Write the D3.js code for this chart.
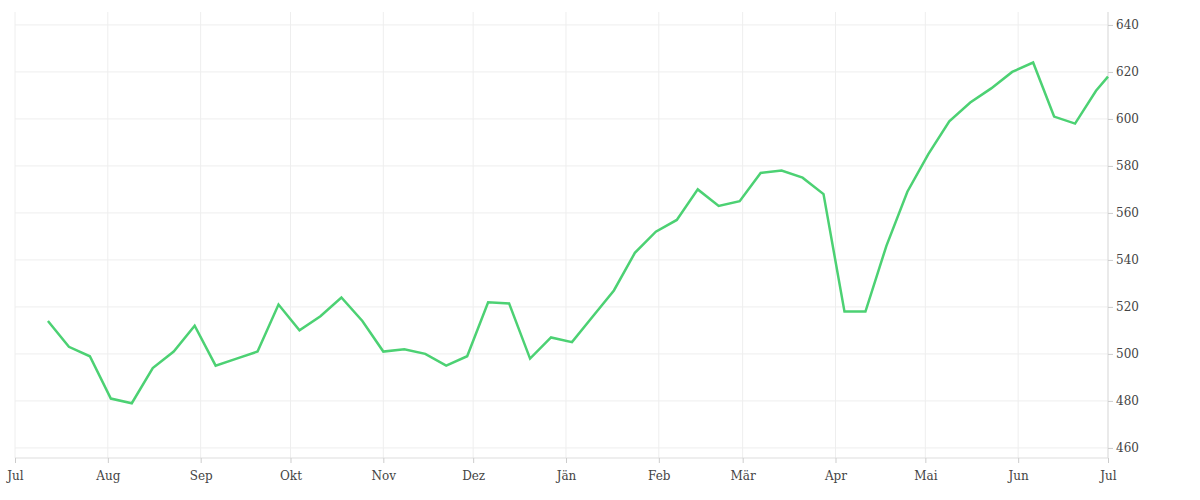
<!DOCTYPE html>
<html><head><meta charset="utf-8">
<script src="https://cdn.jsdelivr.net/npm/d3@7"></script>
<style>body{margin:0;background:#fff}svg text{font-family:"DejaVu Serif",serif;font-size:12px;fill:#444}</style>
</head><body><svg id="c" width="1200" height="500"></svg>
<script>
const startDate = "2020-07-12";
const values = [514,503,499,481,479,494,501,512,495,498,501,521,510,516,524,514,501,502,500,495,499,522,521.5,498,507,505,516,527,543,552,557,570,563,565,577,578,575,568,518,518,546,569,585,599,607,613,620,624,601,598,612];
const endValue = 618;
const endDate = "2021-07-01";
const monthLabels = ["Jul","Aug","Sep","Okt","Nov","Dez","Jän","Feb","Mär","Apr","Mai","Jun","Jul"];
const yTicks = [460,480,500,520,540,560,580,600,620,640];

const p = d3.timeParse("%Y-%m-%d");
const s0 = p(startDate);
const data = values.map((v,i)=>({d:d3.timeDay.offset(s0,i*7),v}));
data.push({d:p(endDate),v:endValue});
const svg = d3.select("#c");
const x = d3.scaleTime().domain([p("2020-07-01"),p("2021-07-01")]).range([15,1108]);
const y = d3.scaleLinear().domain([455.7,645.5]).range([458,12]);
const months = d3.timeMonth.range(p("2020-07-01"),d3.timeDay.offset(p("2021-07-01"),1));
const g = svg.append("g");
g.selectAll(".vg").data(months).join("line").attr("x1",d=>x(d)).attr("x2",d=>x(d)).attr("y1",12).attr("y2",458).attr("stroke","#eee");
g.selectAll(".hg").data(yTicks).join("line").attr("x1",15).attr("x2",1108).attr("y1",d=>y(d)).attr("y2",d=>y(d)).attr("stroke","#eee");
g.append("line").attr("x1",15).attr("x2",1108).attr("y1",458).attr("y2",458).attr("stroke","#ddd");
g.append("line").attr("x1",1108).attr("x2",1108).attr("y1",12).attr("y2",458).attr("stroke","#ddd");
const xa = svg.append("g").attr("transform","translate(0,458)").call(d3.axisBottom(x).tickValues(months).tickSize(5).tickFormat((d,i)=>monthLabels[i]));
xa.select(".domain").remove(); xa.selectAll("line").attr("stroke","#ccc"); xa.selectAll("text").attr("dy","1.2em");
const ya = svg.append("g").attr("transform","translate(1108,0)").call(d3.axisRight(y).tickValues(yTicks).tickSize(5));
ya.select(".domain").remove(); ya.selectAll("line").attr("stroke","#ccc");
svg.append("path").datum(data).attr("fill","none").attr("stroke","#4cd173").attr("stroke-width",2.5)
 .attr("d",d3.line().x(d=>x(d.d)).y(d=>y(d.v)));
</script></body></html>
